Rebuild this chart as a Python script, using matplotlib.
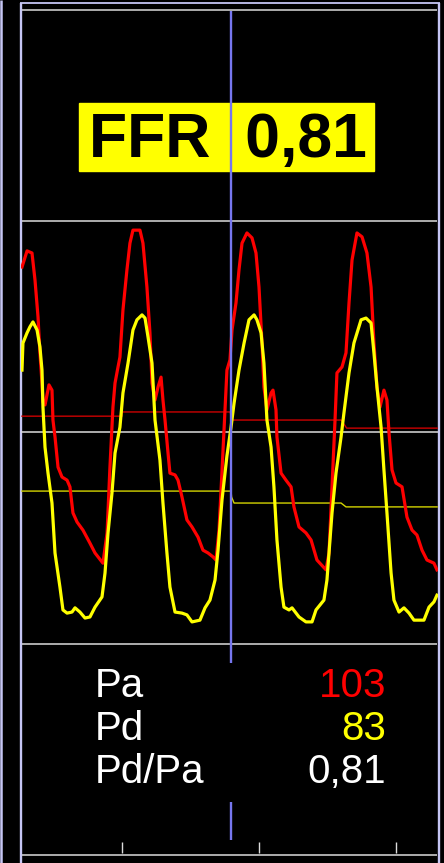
import numpy as np
import matplotlib.pyplot as plt
from matplotlib.patches import Rectangle

# aortic pressure Pa (red) : time in s, pressure in mmHg
t_pa = [0.270, 0.307, 0.343, 0.365, 0.387, 0.401, 0.416, 0.423, 0.438, 0.467,
        0.489, 0.496, 0.511, 0.533, 0.562, 0.599, 0.620, 0.642, 0.672, 0.715,
        0.766, 0.803, 0.861, 0.891, 0.912, 0.934, 0.949, 0.971, 0.985, 1.007,
        1.036, 1.058, 1.080, 1.131, 1.153, 1.182, 1.204, 1.219, 1.241, 1.263,
        1.285, 1.299, 1.314, 1.336, 1.350, 1.387, 1.409, 1.438, 1.474, 1.511,
        1.555, 1.591, 1.628, 1.664, 1.686, 1.708, 1.730, 1.766, 1.788, 1.803,
        1.832, 1.854, 1.876, 1.912, 1.949, 1.978, 2.000, 2.022, 2.036, 2.058,
        2.088, 2.102, 2.124, 2.131, 2.161, 2.197, 2.234, 2.255, 2.292, 2.343,
        2.380, 2.423, 2.489, 2.511, 2.533, 2.555, 2.569, 2.606, 2.635, 2.657,
        2.679, 2.715, 2.752, 2.788, 2.818, 2.839, 2.861, 2.883, 2.912, 2.934,
        2.949, 2.971, 3.000, 3.044, 3.080, 3.117, 3.153, 3.190, 3.226, 3.277,
        3.299]
pa = [146.9, 151.5, 150.9, 143.2, 132.7, 122.5, 113.9, 108.5, 107.7, 113.4,
      111.9, 103.4, 98.6, 90.0, 87.2, 86.3, 84.4, 77.0, 74.4, 72.1,
      68.4, 65.6, 62.7, 71.3, 90.0, 107.1, 113.9, 118.5, 121.3, 134.7,
      146.1, 153.7, 157.4, 157.4, 153.7, 141.2, 128.2, 113.9, 109.1, 112.8,
      115.6, 109.1, 103.4, 94.0, 88.3, 87.8, 86.3, 81.5, 75.0, 73.0,
      70.1, 66.4, 65.6, 64.5, 63.6, 72.1, 88.9, 117.6, 120.5, 129.0,
      136.7, 146.1, 153.7, 156.6, 155.2, 150.9, 141.2, 125.3, 112.8, 106.3,
      111.1, 111.9, 106.3, 98.6, 88.3, 86.3, 84.4, 78.7, 73.0, 71.3,
      69.3, 63.6, 60.8, 65.6, 84.4, 103.4, 116.8, 118.5, 122.5, 136.7,
      148.9, 156.6, 155.5, 150.9, 141.2, 125.3, 112.8, 107.1, 111.9, 109.1,
      99.7, 89.2, 85.5, 84.4, 75.8, 72.1, 70.7, 66.4, 63.6, 62.7,
      60.8]

# distal pressure Pd (yellow)
t_pd = [0.270, 0.277, 0.307, 0.328, 0.350, 0.380, 0.401, 0.416, 0.423, 0.438,
        0.460, 0.489, 0.511, 0.547, 0.569, 0.599, 0.635, 0.657, 0.693, 0.730,
        0.766, 0.803, 0.854, 0.876, 0.898, 0.927, 0.949, 0.985, 1.007, 1.044,
        1.080, 1.109, 1.146, 1.168, 1.190, 1.219, 1.241, 1.277, 1.299, 1.328,
        1.350, 1.387, 1.438, 1.474, 1.511, 1.569, 1.606, 1.642, 1.679, 1.701,
        1.730, 1.766, 1.796, 1.818, 1.854, 1.891, 1.927, 1.964, 1.985, 2.015,
        2.036, 2.058, 2.088, 2.109, 2.131, 2.161, 2.182, 2.219, 2.241, 2.292,
        2.343, 2.387, 2.416, 2.474, 2.496, 2.511, 2.533, 2.562, 2.599, 2.620,
        2.657, 2.693, 2.745, 2.781, 2.818, 2.839, 2.861, 2.891, 2.912, 2.934,
        2.964, 2.985, 3.022, 3.058, 3.095, 3.131, 3.204, 3.241, 3.277, 3.299]
pd_ = [117.6, 125.3, 128.2, 129.9, 131.3, 129.0, 124.2, 117.6, 107.1, 95.7,
       88.3, 79.8, 65.6, 55.9, 49.4, 48.5, 48.8, 50.0, 48.8, 47.1,
       47.4, 50.2, 53.1, 59.9, 71.3, 82.7, 94.0, 101.4, 111.1, 119.6,
       129.0, 131.9, 133.3, 132.4, 127.0, 119.6, 103.4, 92.0, 79.8, 65.6,
       55.9, 48.8, 48.5, 48.0, 46.0, 46.5, 50.0, 52.2, 57.9, 66.4,
       80.7, 93.2, 101.4, 108.2, 117.6, 125.3, 131.9, 133.3, 131.9, 128.2,
       119.6, 103.4, 95.7, 84.4, 69.3, 55.9, 50.2, 49.4, 50.0, 47.4,
       46.0, 46.0, 49.4, 52.2, 57.9, 65.6, 77.0, 88.3, 98.6, 105.4,
       116.8, 125.3, 131.9, 132.4, 131.0, 122.5, 112.8, 101.4, 89.2, 77.0,
       59.9, 52.2, 48.8, 50.0, 48.5, 46.5, 46.5, 50.2, 51.7, 53.6]

# running mean pressures
t_pa_mean = [0.27, 1.0, 1.0, 1.79, 1.80, 2.60, 2.64, 3.30]
pa_mean = [104.5, 104.5, 105.7, 105.7, 103.4, 103.4, 101.1, 101.1]
t_pd_mean = [0.27, 1.796, 1.80, 1.818, 2.599, 2.635, 3.30]
pd_mean = [83.2, 83.2, 81.5, 79.8, 79.8, 78.7, 78.7]

tick_t = [1, 2, 3]
cursor_t = 1.796

labels = ["Pa", "Pd", "Pd/Pa"]
values = ["103", "83", "0,81"]
value_colors = ["#ff0000", "#ffff00", "#ffffff"]
ffr_label = "FFR  0,81"

W, H = 444, 863
lav = "#c6c6f4"
grid = "#dcdcdc"
t0, t1 = (21 + 15) / 137, (438 + 15) / 137

plt.rcParams["font.family"] = ["Liberation Sans", "DejaVu Sans"]
fig = plt.figure(figsize=(W / 100, H / 100), dpi=100, facecolor="black")

# background / frame in pixel coordinates
bg = fig.add_axes([0, 0, 1, 1])
bg.set_xlim(0, W)
bg.set_ylim(H, 0)
bg.axis("off")
bg.vlines(1.2, 0, H, color=lav, lw=1.8)
bg.vlines([20.5, 438.5], 3, H, color=lav, lw=1.7)
bg.hlines(3.5, 19.5, 440, color=lav, lw=1.3)
bg.hlines([10.5, 221, 643.5, 855], 21.5, 437, color=grid, lw=1.1)

bg.add_patch(Rectangle((79, 103), 295, 68, color="#ffff00", zorder=3))
bg.text(227.5, 157, ffr_label, ha="center", va="baseline", fontsize=45,
        fontweight="bold", color="black", zorder=4)

for i, (lab, val, col) in enumerate(zip(labels, values, value_colors)):
    y = 697 + 43 * i
    bg.text(95, y, lab, ha="left", va="baseline", fontsize=29, color="white")
    bg.text(386, y, val, ha="right", va="baseline", fontsize=29, color=col)

# pressure traces
ax = fig.add_axes([21 / W, 1 - 643 / H, 417 / W, 422 / H])
ax.set_xlim(t0, t1)
ax.set_ylim(40, 160)
ax.axis("off")
ax.patch.set_alpha(0)
ax.axhline(100, color=grid, lw=1.1, zorder=1)
ax.plot(t_pa_mean, pa_mean, color="#cc0000", lw=1.0, zorder=2)
ax.plot(t_pd_mean, pd_mean, color="#d4d400", lw=1.0, zorder=2)
ax.plot(t_pa, pa, color="#ff0000", lw=2.3, zorder=3)
ax.plot(t_pd, pd_, color="#ffff00", lw=2.3, zorder=4)

# cursor and time ticks (x in seconds, y in pixels)
ov = fig.add_axes([21 / W, 0, 417 / W, 1])
ov.set_xlim(t0, t1)
ov.set_ylim(H, 0)
ov.axis("off")
ov.patch.set_alpha(0)
ov.vlines(cursor_t, 11, 663, color="#7676ee", lw=1.7)
ov.vlines(cursor_t, 802, 840, color="#7676ee", lw=1.7)
ov.vlines(tick_t, 842, 853, color=grid, lw=1.0)

bg.set_zorder(0)
ax.set_zorder(1)
ov.set_zorder(2)

fig.savefig("out.png", dpi=100, facecolor="black")
